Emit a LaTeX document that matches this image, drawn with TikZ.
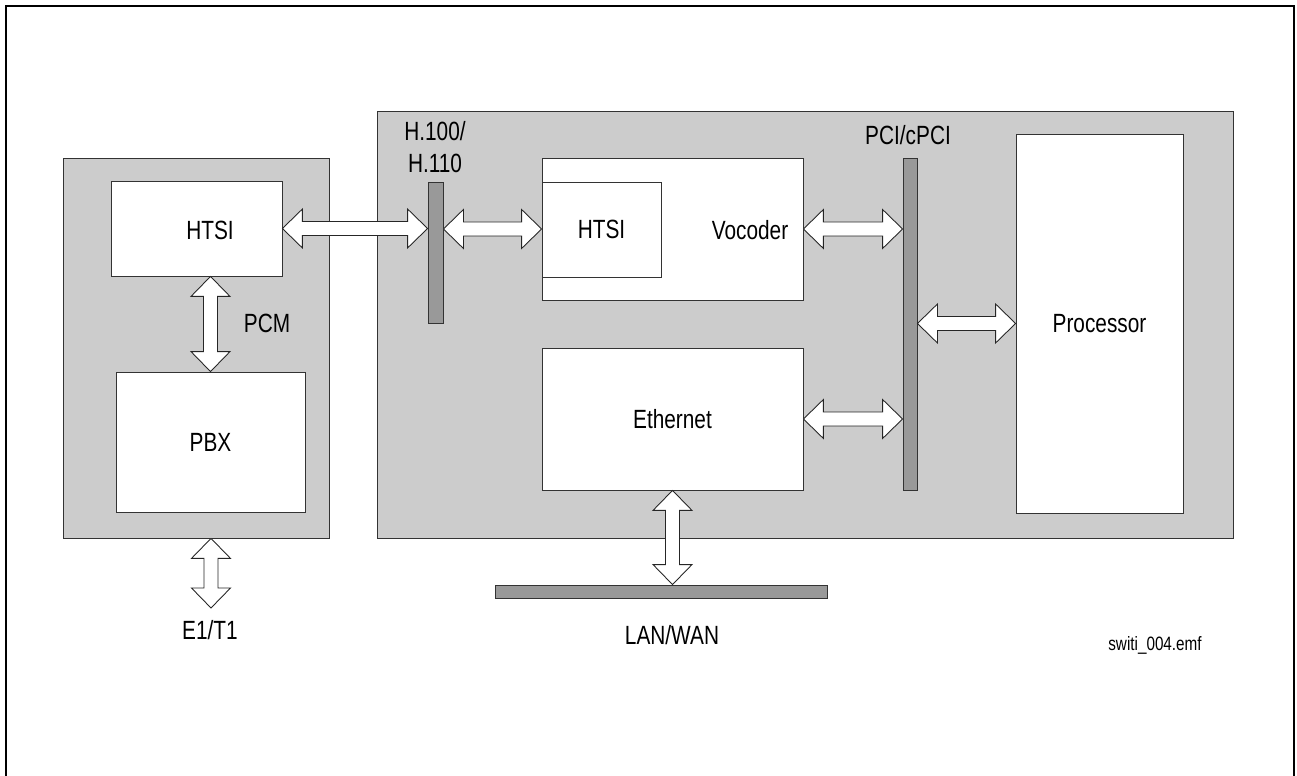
\documentclass[tikz,border=0pt]{standalone}
\usepackage{fontspec}
\setmainfont{Liberation Sans}[FakeStretch=0.79]
\usetikzlibrary{calc}

\begin{document}
\begin{tikzpicture}[x=0.02cm, y=-0.02cm,
  every node/.style={font=\fontsize{15}{18.5}\selectfont},
  graybox/.style={draw=black!80, fill=black!20, line width=0.5pt, inner sep=0pt},
  whitebox/.style={draw=black!80, fill=white, line width=0.5pt, inner sep=0pt},
  bus/.style={draw=black!80, fill=black!40, line width=0.5pt, inner sep=0pt},
  fat/.style={draw=black!85, fill=white, line width=0.5pt, to path={
    -- ($(\tikztostart)!0.4cm!(\tikztotarget)!0.39cm!90:(\tikztotarget)$)
    -- ($(\tikztostart)!0.4cm!(\tikztotarget)!0.14cm!90:(\tikztotarget)$)
    -- ($(\tikztotarget)!0.4cm!(\tikztostart)!0.14cm!-90:(\tikztostart)$)
    -- ($(\tikztotarget)!0.4cm!(\tikztostart)!0.39cm!-90:(\tikztostart)$)
    -- (\tikztotarget)
    -- ($(\tikztotarget)!0.4cm!(\tikztostart)!0.39cm!90:(\tikztostart)$)
    -- ($(\tikztotarget)!0.4cm!(\tikztostart)!0.14cm!90:(\tikztostart)$)
    -- ($(\tikztostart)!0.4cm!(\tikztotarget)!0.14cm!-90:(\tikztotarget)$)
    -- ($(\tikztostart)!0.4cm!(\tikztotarget)!0.39cm!-90:(\tikztotarget)$)
    -- cycle}}]
  \useasboundingbox (0,0) rectangle (1297,776);
  % frame
  \draw[line width=1.1pt] (6,776) -- (6,6) -- (1294,6) -- (1294,776);

  % PBX side
  \node[graybox, minimum width=5.32cm, minimum height=7.6cm] (pbxside) at (196,348) {};
  \node[whitebox, minimum width=3.42cm, minimum height=1.9cm] (htsiL) at (196.5,228.5) {};
  \node (htsiLtxt) at (210,230) {HTSI};
  \node[whitebox, minimum width=3.78cm, minimum height=2.8cm] (pbx) at (210.5,442) {PBX};
  \node (pcm) at (267,323) {PCM};
  \coordinate (e1) at (211,608);
  \node (e1txt) at (210,630) {E1/T1};

  % gateway board
  \node[graybox, minimum width=17.14cm, minimum height=8.54cm] (board) at (805.5,324.5) {};
  \node[bus, minimum width=0.3cm, minimum height=2.82cm] (hbus) at (435.5,252.5) {};
  \node[align=center] (hbustxt) at (435,147) {H.100/\\H.110};
  \node[whitebox, minimum width=5.22cm, minimum height=2.84cm] (vocoder) at (672.5,229) {};
  \node[whitebox, minimum width=2.38cm, minimum height=1.9cm] (htsiR) at (601.5,229.5) {HTSI};
  \node (vocodertxt) at (750,230) {Vocoder};
  \node[whitebox, minimum width=5.22cm, minimum height=2.84cm] (ether) at (672.5,419) {Ethernet};
  \node[bus, minimum width=0.28cm, minimum height=6.64cm] (pci) at (910,324) {};
  \node (pcitxt) at (908,135) {PCI/cPCI};
  \node[whitebox, minimum width=3.34cm, minimum height=7.58cm] (proc) at (1099.5,323.5) {Processor};

  % network
  \node[bus, minimum width=6.64cm, minimum height=0.26cm] (lan) at (661,591.5) {};
  \node (lantxt) at (672,635) {LAN/WAN};
  \node[font=\fontsize{11}{13}\selectfont] (fname) at (1155,645) {switi\_004.emf};

  % connections
  \draw[fat] (htsiL.east) to (hbus.west |- htsiL.east);
  \draw[fat] (hbus.east |- vocoder.west) to (vocoder.west);
  \draw[fat] (vocoder.east) to (pci.west |- vocoder.east);
  \draw[fat] (ether.east) to (pci.west |- ether.east);
  \draw[fat] (pci.east |- proc.west) to (proc.west);
  \draw[fat] (htsiL.south -| pbx.north) to (pbx.north);
  \draw[fat] (pbxside.south -| e1) to (e1);
  \draw[fat] (ether.south) to (lan.north -| ether.south);
\end{tikzpicture}
\end{document}
